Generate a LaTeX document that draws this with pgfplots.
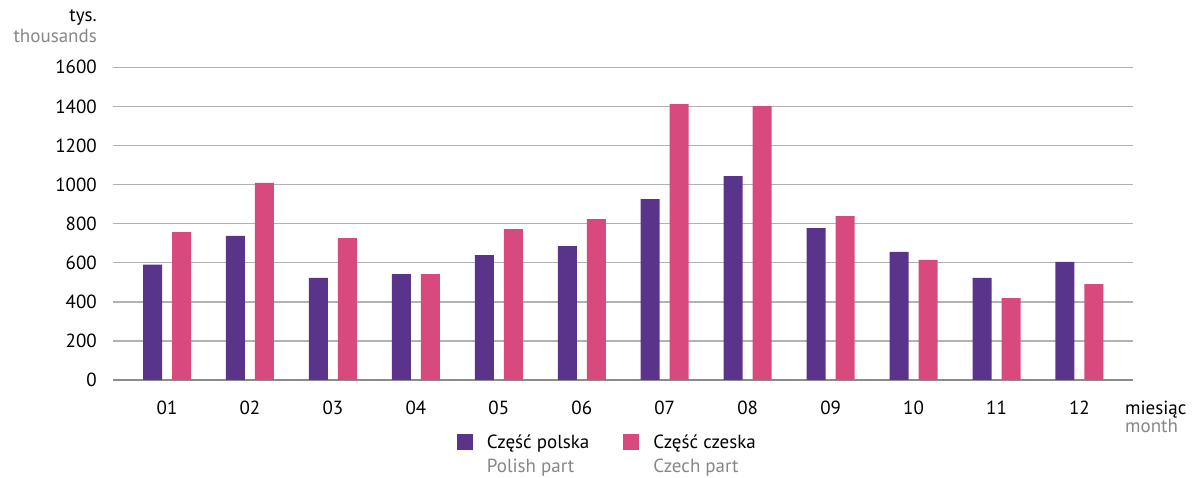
\documentclass[border=0pt]{standalone}
\usepackage{pgfplots}
\pgfplotsset{compat=1.18}
\usepackage{fontspec}
\setmainfont{PT Sans}
\definecolor{polish}{HTML}{5A348A}
\definecolor{czech}{HTML}{D84A7E}
\definecolor{gridgray}{HTML}{B2B2B2}
\definecolor{axisgray}{HTML}{8C8C8C}
\definecolor{subgray}{HTML}{878787}
\begin{document}
\begin{tikzpicture}[font=\fontsize{19}{24}\selectfont]
\useasboundingbox (-113pt,-98pt) rectangle (1079pt,380pt);
\begin{axis}[
  at={(0pt,0pt)}, anchor=south west,
  scale only axis, width=1020pt, height=312.7pt,
  xmin=0.349, xmax=12.645, ymin=0, ymax=1600,
  ytick={0,200,...,1600},
  xtick={1,2,3,4,5,6,7,8,9,10,11,12},
  xticklabels={01,02,03,04,05,06,07,08,09,10,11,12},
  axis x line*=bottom, axis y line*=left,
  y axis line style={draw=none},
  x axis line style={draw=axisgray, line width=2pt, -},
  ymajorgrids, grid style={gridgray, line width=1.5pt},
  major tick length=0pt, tick style={draw=none},
  /pgf/number format/assume math mode=true,
  /pgf/number format/1000 sep={},
  yticklabel style={anchor=east, inner sep=0pt, xshift=-16pt},
  xticklabel style={anchor=base, inner sep=0pt, yshift=-35pt},
  ybar, bar width=19pt,
  legend style={at={(0.337,-0.172)}, anchor=north west, draw=none, fill=none,
    inner sep=0pt, legend columns=2,
    nodes={inner sep=0pt, align=left, anchor=base west},
    /tikz/every odd column/.append style={column sep=14pt},
    /tikz/every even column/.append style={column sep=34pt}},
  legend image code/.code={\fill[#1] (0pt,23pt) rectangle (16pt,39pt);},
]
\addplot[fill=polish, draw=none, bar shift=-14.5pt] coordinates {
  (1,590) (2,737) (3,522) (4,542) (5,639) (6,685)
  (7,926) (8,1043) (9,777) (10,655) (11,522) (12,604)};
\addlegendentry{Część polska\\{\color{subgray}Polish part}}
\addplot[fill=czech, draw=none, bar shift=14.5pt] coordinates {
  (1,757) (2,1008) (3,726) (4,542) (5,772) (6,823)
  (7,1412) (8,1401) (9,838) (10,614) (11,419) (12,491)};
\addlegendentry{Część czeska\\{\color{subgray}Czech part}}
\end{axis}
\node[anchor=base east, inner sep=0pt] at (-16pt,358pt) {tys.};
\node[anchor=base east, inner sep=0pt, text=subgray] at (-16pt,337pt) {thousands};
\node[anchor=base west, inner sep=0pt] at (1012pt,-35pt) {miesiąc};
\node[anchor=base west, inner sep=0pt, text=subgray] at (1012pt,-53pt) {month};
\end{tikzpicture}
\end{document}
